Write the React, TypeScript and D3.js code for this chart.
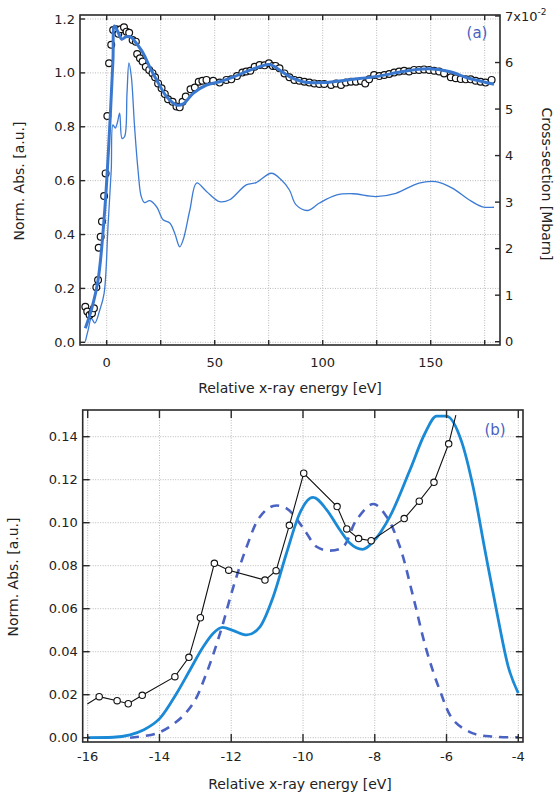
import React from 'react';
import * as d3 from 'd3';

// ---- panel (a) data ----
const dataE = [-9.9, -9.0, -7.9, -6.8, -5.9, -4.8, -4.0, -3.7, -2.8, -2.2, -1.2, -0.5, 0.3, 1.1, 2.1, 3.0, 4.4, 5.4, 6.5, 8.0, 9.2, 10.4, 12.0, 13.5, 14.1, 15.4, 16.6, 18.1, 19.7, 21.2, 22.4, 23.8, 25.4, 26.9, 28.4, 30.5, 32.3, 33.8, 35.1, 36.6, 38.8, 40.8, 42.6, 44.3, 46.2, 49.3, 52.3, 55.4, 57.7, 60.3, 62.8, 64.6, 66.5, 68.5, 70.8, 73.1, 75.1, 76.9, 78.2, 80, 82.3, 84.6, 86.9, 89.2, 91.5, 93.8, 96.1, 98.4, 100.7, 103.9, 106.2, 108.5, 110.8, 113.1, 115.4, 117.7, 119.7, 121.5, 123.8, 126.2, 128.5, 130.8, 133.1, 135.4, 137.7, 140, 142.3, 144.6, 146.9, 149.3, 151.6, 153.9, 156.2, 159.3, 161.6, 163.9, 166.2, 168.5, 170.8, 173.1, 175.4, 178.2];
const dataV = [0.132, 0.114, 0.101, 0.108, 0.126, 0.204, 0.231, 0.351, 0.392, 0.448, 0.543, 0.627, 0.84, 1.036, 1.104, 1.159, 1.162, 1.145, 1.162, 1.169, 1.153, 1.149, 1.122, 1.116, 1.07, 1.054, 1.042, 1.023, 1.011, 0.999, 0.984, 0.961, 0.943, 0.922, 0.902, 0.893, 0.875, 0.872, 0.893, 0.912, 0.939, 0.946, 0.967, 0.971, 0.974, 0.971, 0.964, 0.974, 0.976, 0.988, 1.001, 1.005, 1.008, 1.023, 1.029, 1.028, 1.036, 1.026, 1.026, 1.017, 0.998, 0.984, 0.974, 0.971, 0.967, 0.964, 0.961, 0.959, 0.959, 0.955, 0.961, 0.955, 0.964, 0.967, 0.967, 0.97, 0.961, 0.976, 0.992, 0.988, 0.992, 0.996, 1.001, 1.005, 1.008, 1.005, 1.011, 1.011, 1.013, 1.011, 1.008, 1.005, 0.998, 0.984, 0.98, 0.977, 0.976, 0.976, 0.971, 0.967, 0.964, 0.974];

const fitE = [-9.9, -7.1, -4.0, -0.9, 1.4, 2.9, 3.6, 5.5, 6.9, 9.0, 11.4, 13.7, 16.9, 20, 23.1, 27.7, 32.3, 35.4, 40, 46.2, 52.3, 58.5, 64.6, 70.8, 75.4, 80, 84.6, 90.8, 100, 113.9, 126.2, 137, 149.3, 158.5, 167.7, 179.3];
const fitV = [0.052, 0.12, 0.231, 0.491, 0.8, 1.048, 1.174, 1.147, 1.125, 1.134, 1.132, 1.11, 1.073, 1.02, 0.974, 0.912, 0.881, 0.885, 0.924, 0.955, 0.967, 0.984, 1.005, 1.023, 1.031, 1.011, 0.986, 0.967, 0.964, 0.976, 0.988, 1.005, 1.015, 1.005, 0.98, 0.958];

// cross-section, units of 1e-2 Mbarn
const xsE = [-9.9, -8.6, -7.1, -5.5, -3.2, -1.2, 0.6, 2.1, 2.9, 4.0, 4.9, 6.0, 7.1, 8.3, 9.4, 10.3, 11.4, 12.9, 14.5, 16, 17.5, 19.9, 23.1, 26.1, 29.2, 31.5, 33.8, 35.4, 38.5, 41.6, 46.2, 52.3, 56.9, 64.6, 69.2, 76.2, 80.8, 84.6, 87.7, 93.1, 98.5, 106.2, 113.9, 124.6, 133.9, 144.6, 152.3, 160, 167.7, 173.9, 179.3];
const xsC = [0.0, 0.25, 0.5, 0.4, 0.68, 1.04, 2.47, 3.69, 4.66, 4.59, 4.7, 4.91, 4.37, 4.41, 5.34, 5.99, 5.7, 4.62, 3.69, 3.12, 2.99, 3.03, 2.9, 2.62, 2.55, 2.33, 2.04, 2.19, 2.83, 3.41, 3.23, 3.01, 3.05, 3.37, 3.42, 3.62, 3.48, 3.26, 2.94, 2.82, 2.98, 3.15, 3.18, 3.12, 3.19, 3.41, 3.44, 3.3, 3.05, 2.9, 2.89];

const aXTicks = [0, 50, 100, 150];
const aXGrid = [0, 25, 50, 75, 100, 125, 150, 175];
const aYTicks = [0, 0.2, 0.4, 0.6, 0.8, 1.0, 1.2];
const aRTicks = [0, 1, 2, 3, 4, 5, 6, 7];

// ---- panel (b) data ----
const expE = [-15.68, -15.18, -14.87, -14.48, -13.57, -13.18, -12.86, -12.47, -12.07, -11.06, -10.75, -10.38, -9.98, -9.05, -8.78, -8.45, -8.1, -7.18, -6.76, -6.35, -5.94];
const expV = [0.0191, 0.0172, 0.0158, 0.0197, 0.0284, 0.0374, 0.0558, 0.0811, 0.0779, 0.0733, 0.0777, 0.0988, 0.123, 0.1075, 0.0971, 0.0926, 0.0916, 0.1019, 0.11, 0.1188, 0.1367];
const expStart = [-16.01, 0.0157];
const expEnd = [-5.74, 0.15];

const calcE = [-16, -15.29, -14.82, -14.45, -13.99, -13.52, -13.15, -12.78, -12.5, -12.24, -11.94, -11.57, -11.2, -10.83, -10.46, -10.09, -9.81, -9.72, -9.34, -8.97, -8.69, -8.34, -8.04, -7.58, -7.02, -6.6, -6.28, -6.0, -5.58, -5.26, -4.93, -4.61, -4.28, -4.0];
const calcV = [0, 0.0002, 0.0013, 0.0036, 0.009, 0.0207, 0.0315, 0.0423, 0.0486, 0.0513, 0.0498, 0.0478, 0.0516, 0.0656, 0.0858, 0.1044, 0.1113, 0.1118, 0.106, 0.0966, 0.0904, 0.0876, 0.0912, 0.1028, 0.1245, 0.1416, 0.1496, 0.1496, 0.1377, 0.1167, 0.0873, 0.0594, 0.033, 0.0207];

const dashE = [-14.82, -14.08, -13.52, -13.06, -12.69, -12.31, -11.94, -11.57, -11.2, -10.83, -10.46, -10.09, -9.9, -9.62, -9.25, -8.88, -8.51, -8.04, -7.67, -7.3, -6.93, -6.56, -6.19, -5.81, -5.26, -4.7, -4.0];
const dashV = [0, 0.002, 0.0075, 0.016, 0.03, 0.0486, 0.0702, 0.0888, 0.1028, 0.1078, 0.1067, 0.0997, 0.0951, 0.0888, 0.087, 0.0888, 0.1013, 0.1087, 0.1028, 0.0888, 0.0656, 0.0408, 0.0222, 0.0082, 0.002, 0.0005, 0.0002];

const bXTicks = [-16, -14, -12, -10, -8, -6, -4];
const bYTicks = [0, 0.02, 0.04, 0.06, 0.08, 0.1, 0.12, 0.14];

const FONT = '"DejaVu Sans", Verdana, sans-serif';
const GRID = '#a8a8a8';
const FRAME = '#2a2a2a';
const LABEL_BLUE = '#4a5fc0';

const App: React.FC = () => {
  // panel (a) geometry
  const a = { l: 80, r: 500, t: 15, b: 345 };
  const ax = d3.scaleLinear().domain([0, 150]).range([106.7, 430.7]);
  const ay = d3.scaleLinear().domain([0, 1.2]).range([342.3, 19]);
  const ar = d3.scaleLinear().domain([0, 7]).range([341.7, 16]);

  // panel (b) geometry
  const b = { l: 82.7, r: 523, t: 410, b: 742 };
  const bx = d3.scaleLinear().domain([-16, -4]).range([87.7, 518.3]);
  const by = d3.scaleLinear().domain([0, 0.14]).range([737.7, 436.7]);

  const fitLine = d3.line<number>().x((_, i) => ax(fitE[i])).y(d => ay(d)).curve(d3.curveCatmullRom.alpha(0.5));
  const xsLine = d3.line<number>().x((_, i) => ax(xsE[i])).y(d => ar(d)).curve(d3.curveCatmullRom.alpha(0.5));

  const expPts: [number, number][] = [expStart as [number, number], ...expE.map((e, i) => [e, expV[i]] as [number, number]), expEnd as [number, number]];
  const expLine = d3.line<[number, number]>().x(d => bx(d[0])).y(d => by(d[1]));
  const calcLine = d3.line<number>().x((_, i) => bx(calcE[i])).y(d => by(d)).curve(d3.curveMonotoneX);
  const dashLine = d3.line<number>().x((_, i) => bx(dashE[i])).y(d => by(d)).curve(d3.curveCatmullRom.alpha(0.5));

  const tickTxt = { fontFamily: FONT, fontSize: 13, fill: '#222' } as const;
  const axTxt = { fontFamily: FONT, fontSize: 14, fill: '#222' } as const;

  return (
    <svg width={558} height={793} style={{ position: 'absolute', left: 0, top: 0, background: '#fff' }}>
      <defs>
        <clipPath id="clipA"><rect x={a.l} y={a.t} width={a.r - a.l} height={a.b - a.t} /></clipPath>
        <clipPath id="clipB"><rect x={b.l} y={b.t} width={b.r - b.l} height={b.b - b.t} /></clipPath>
      </defs>

      {/* ===== panel (a) ===== */}
      <g>
        {aXGrid.map(v => (
          <line key={'agx' + v} x1={ax(v)} x2={ax(v)} y1={a.t} y2={a.b} stroke={GRID} strokeWidth={0.8} strokeDasharray="1,1.5" />
        ))}
        {aYTicks.map(v => (
          <line key={'agy' + v} x1={a.l} x2={a.r} y1={ay(v)} y2={ay(v)} stroke={GRID} strokeWidth={0.8} strokeDasharray="1,1.5" />
        ))}
        <g clipPath="url(#clipA)">
          <path d={xsLine(xsC) || ''} fill="none" stroke="#3c7bd4" strokeWidth={1.3} />
          {dataE.map((e, i) => (
            <circle key={'ad' + i} cx={ax(e)} cy={ay(dataV[i])} r={3.4} fill="#fff" stroke="#111" strokeWidth={1.2} />
          ))}
          <path d={fitLine(fitV) || ''} fill="none" stroke="#3a78cf" strokeWidth={3} />
        </g>
        <rect x={a.l} y={a.t} width={a.r - a.l} height={a.b - a.t} fill="none" stroke={FRAME} strokeWidth={1.6} />
        {aXGrid.map(v => (
          <g key={'axt' + v}>
            <line x1={ax(v)} x2={ax(v)} y1={a.b} y2={a.b - 5} stroke={FRAME} strokeWidth={1.4} />
            <line x1={ax(v)} x2={ax(v)} y1={a.t} y2={a.t + 5} stroke={FRAME} strokeWidth={1.4} />
          </g>
        ))}
        {aXTicks.map(v => (
          <text key={'axl' + v} x={ax(v)} y={367} textAnchor="middle" style={tickTxt}>{v}</text>
        ))}
        {aYTicks.map(v => (
          <g key={'ayt' + v}>
            <line x1={a.l} x2={a.l + 5} y1={ay(v)} y2={ay(v)} stroke={FRAME} strokeWidth={1.4} />
            <text x={a.l - 5} y={ay(v) + 4.5} textAnchor="end" style={tickTxt}>{v.toFixed(1)}</text>
          </g>
        ))}
        {aRTicks.map(v => (
          <g key={'art' + v}>
            <line x1={a.r} x2={a.r - 5} y1={ar(v)} y2={ar(v)} stroke={FRAME} strokeWidth={1.4} />
            <text x={a.r + 5} y={ar(v) + 4.5} textAnchor="start" style={tickTxt}>
              {v === 7 ? <>7x10<tspan dy={-6} fontSize={9}>-2</tspan></> : v}
            </text>
          </g>
        ))}
        <text x={290} y={393} textAnchor="middle" style={axTxt}>Relative x-ray energy [eV]</text>
        <text transform="translate(24,181) rotate(-90)" textAnchor="middle" style={axTxt}>Norm. Abs. [a.u.]</text>
        <text transform="translate(542,184) rotate(90)" textAnchor="middle" style={axTxt}>Cross-section [Mbarn]</text>
        <text x={477} y={38} textAnchor="middle" style={{ fontFamily: FONT, fontSize: 15, fill: LABEL_BLUE }}>(a)</text>
      </g>

      {/* ===== panel (b) ===== */}
      <g>
        {bXTicks.map(v => (
          <line key={'bgx' + v} x1={bx(v)} x2={bx(v)} y1={b.t} y2={b.b} stroke={GRID} strokeWidth={0.8} strokeDasharray="1,1.5" />
        ))}
        {bYTicks.map(v => (
          <line key={'bgy' + v} x1={b.l} x2={b.r} y1={by(v)} y2={by(v)} stroke={GRID} strokeWidth={0.8} strokeDasharray="1,1.5" />
        ))}
        <g clipPath="url(#clipB)">
          <path d={dashLine(dashV) || ''} fill="none" stroke="#4a62c2" strokeWidth={2.6} strokeDasharray="9,7" />
          <path d={calcLine(calcV) || ''} fill="none" stroke="#1b8ad6" strokeWidth={2.8} />
          <path d={expLine(expPts) || ''} fill="none" stroke="#111" strokeWidth={1.1} />
          {expE.map((e, i) => (
            <circle key={'bd' + i} cx={bx(e)} cy={by(expV[i])} r={3.2} fill="#fff" stroke="#111" strokeWidth={1.1} />
          ))}
        </g>
        <rect x={b.l} y={b.t} width={b.r - b.l} height={b.b - b.t} fill="none" stroke={FRAME} strokeWidth={1.6} />
        {bXTicks.map(v => (
          <g key={'bxt' + v}>
            <line x1={bx(v)} x2={bx(v)} y1={b.b} y2={b.b - 8} stroke={FRAME} strokeWidth={1.4} />
            <line x1={bx(v)} x2={bx(v)} y1={b.t} y2={b.t + 8} stroke={FRAME} strokeWidth={1.4} />
            <text x={bx(v)} y={761} textAnchor="middle" style={tickTxt}>{v}</text>
          </g>
        ))}
        {bYTicks.map(v => (
          <g key={'byt' + v}>
            <line x1={b.l} x2={b.l + 7} y1={by(v)} y2={by(v)} stroke={FRAME} strokeWidth={1.4} />
            <line x1={b.r} x2={b.r - 7} y1={by(v)} y2={by(v)} stroke={FRAME} strokeWidth={1.4} />
            <text x={b.l - 5} y={by(v) + 4.5} textAnchor="end" style={tickTxt}>{v.toFixed(2)}</text>
          </g>
        ))}
        <text x={300} y={789} textAnchor="middle" style={axTxt}>Relative x-ray energy [eV]</text>
        <text transform="translate(18,577) rotate(-90)" textAnchor="middle" style={axTxt}>Norm. Abs. [a.u.]</text>
        <text x={495} y={435} textAnchor="middle" style={{ fontFamily: FONT, fontSize: 15, fill: LABEL_BLUE }}>(b)</text>
      </g>
    </svg>
  );
};

export default App;
